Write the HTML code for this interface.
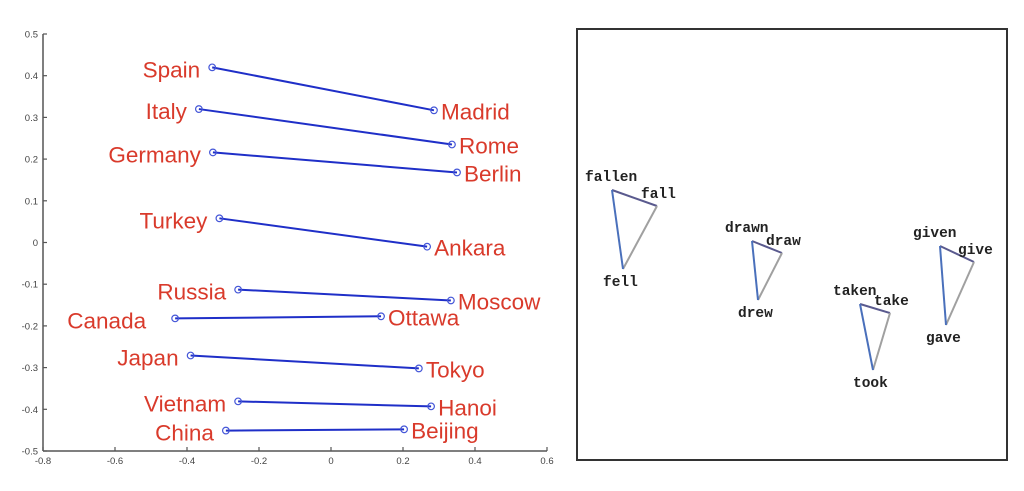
<!DOCTYPE html>
<html><head><meta charset="utf-8"><style>
html,body{margin:0;padding:0;background:#fff;width:1024px;height:491px;overflow:hidden}
svg{display:block}
</style></head><body>
<svg id="chart" width="1024" height="491" xmlns="http://www.w3.org/2000/svg">
<g id="left"></g>
<g id="right"></g>
</svg>
<script>
const countries=["Spain","Italy","Germany","Turkey","Russia","Canada","Japan","Vietnam","China"];
const capitals=["Madrid","Rome","Berlin","Ankara","Moscow","Ottawa","Tokyo","Hanoi","Beijing"];
const countryX=[-0.33,-0.367,-0.328,-0.31,-0.258,-0.433,-0.39,-0.258,-0.292];
const countryY=[0.42,0.32,0.216,0.058,-0.113,-0.182,-0.271,-0.381,-0.451];
const capitalX=[0.286,0.336,0.35,0.267,0.333,0.139,0.244,0.278,0.203];
const capitalY=[0.317,0.235,0.168,-0.01,-0.139,-0.177,-0.302,-0.393,-0.448];
const xTicks=[-0.8,-0.6,-0.4,-0.2,0,0.2,0.4,0.6];
const xTickLabels=["-0.8","-0.6","-0.4","-0.2","0","0.2","0.4","0.6"];
const yTicks=[0.5,0.4,0.3,0.2,0.1,0,-0.1,-0.2,-0.3,-0.4,-0.5];
const yTickLabels=["0.5","0.4","0.3","0.2","0.1","0","-0.1","-0.2","-0.3","-0.4","-0.5"];
const verbWords=[["fallen","fall","fell"],["drawn","draw","drew"],["taken","take","took"],["given","give","gave"]];
const verbPX=[[612,657,623],[752,782,758],[860,890,873],[940,974,946]];
const verbPY=[[190,206,269],[241,253,300],[304,313,370],[246,262,325]];

const NS="http://www.w3.org/2000/svg";
function mk(parent,tag,attrs,text){const e=document.createElementNS(NS,tag);for(const k in attrs)e.setAttribute(k,attrs[k]);if(text!==undefined)e.textContent=text;parent.appendChild(e);return e;}
const xs=v=>331+v*360;
const ys=v=>242.5-v*417;
const L=document.getElementById('left');
let a=mk(L,'line',{x1:43,y1:ys(0.5),x2:43,y2:ys(-0.5),stroke:'#555','stroke-width':1.5});


a=mk(L,'line',{x1:43,y1:ys(-0.5),x2:xs(0.6),y2:ys(-0.5),stroke:'#555','stroke-width':1.5});


xTicks.forEach((v,i)=>{
  mk(L,'line',{x1:xs(v),y1:ys(-0.5),x2:xs(v),y2:ys(-0.5)-4,stroke:'#555','stroke-width':1.2});
  const t=mk(L,'text',{x:xs(v),y:ys(-0.5)+13,'text-anchor':'middle','font-family':'Liberation Sans, sans-serif','font-size':9.5,fill:'#444'},xTickLabels[i]);
  
  
});
yTicks.forEach((v,i)=>{
  mk(L,'line',{x1:43,y1:ys(v),x2:47,y2:ys(v),stroke:'#555','stroke-width':1.2});
  const t=mk(L,'text',{x:38,y:ys(v)+3.5,'text-anchor':'end','font-family':'Liberation Sans, sans-serif','font-size':9.5,fill:'#444'},yTickLabels[i]);
  
  
});
countries.forEach((c,i)=>{
  const x1=xs(countryX[i]),y1=ys(countryY[i]),x2=xs(capitalX[i]),y2=ys(capitalY[i]);
  const ln=mk(L,'line',{x1:x1,y1:y1,x2:x2,y2:y2,stroke:'#1f2fc8','stroke-width':2});
  
  
  [[x1,y1],[x2,y2]].forEach(p=>{
    const m=mk(L,'circle',{cx:p[0],cy:p[1],r:3.3,fill:'none',stroke:'#4456d8','stroke-width':1.2});
    
    
  });
  const gap=(c==="Canada")?29:12;
  const tc=mk(L,'text',{x:x1-gap,y:y1+10,'text-anchor':'end','font-family':'Liberation Sans, sans-serif','font-size':22.5,fill:'#d93a2b'},c);
  
  
  const tk=mk(L,'text',{x:x2+7,y:y2+9,'text-anchor':'start','font-family':'Liberation Sans, sans-serif','font-size':22.5,fill:'#d93a2b'},capitals[i]);
  
  
});
const R=document.getElementById('right');
const box=mk(R,'rect',{x:577,y:29,width:430,height:431,fill:'none',stroke:'#333','stroke-width':2});


const edgeCols=['#5a5a8e','#a0a0a0','#4a70bb'];
const labelOff=[[-27,-9],[-16,-8],[-20,17]];
verbWords.forEach((w,i)=>{
  const px=verbPX[i],py=verbPY[i];
  const pairs=[[0,1],[1,2],[2,0]];
  pairs.forEach((p,j)=>{
    const e=mk(R,'line',{x1:px[p[0]],y1:py[p[0]],x2:px[p[1]],y2:py[p[1]],stroke:edgeCols[j],'stroke-width':2});
    
    
  });
  w.forEach((word,k)=>{
    const t=mk(R,'text',{x:px[k]+labelOff[k][0],y:py[k]+labelOff[k][1],'font-family':'Liberation Mono, monospace','font-size':14.5,fill:'#222','font-weight':'bold'},word);
    
    
  });
});
</script>
</body></html>
